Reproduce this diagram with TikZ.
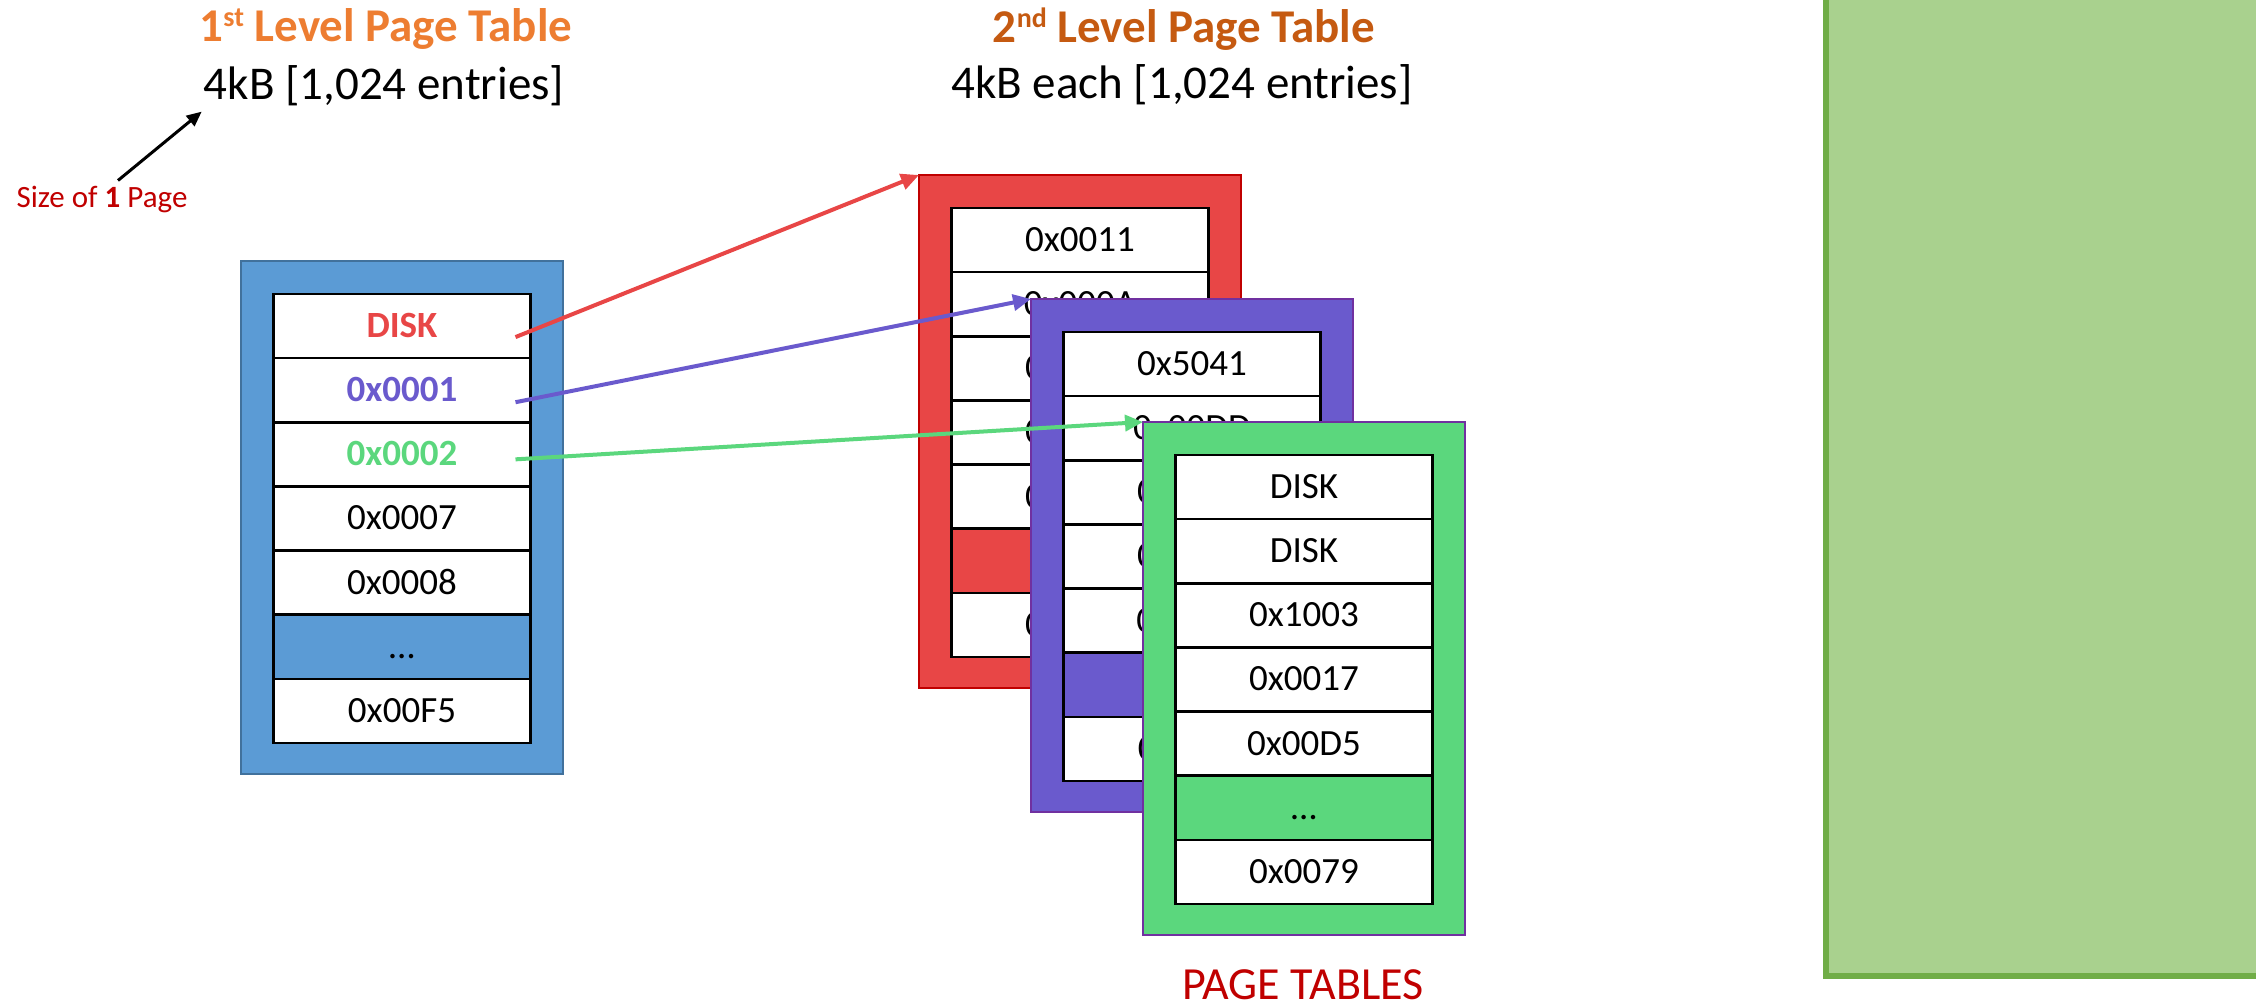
\documentclass[tikz,border=0pt]{standalone}
\usepackage{fontspec}
\setmainfont{Carlito}
\usetikzlibrary{arrows.meta,calc}

\definecolor{tblblue}{HTML}{5B9BD5}
\definecolor{tblblueedge}{HTML}{41719C}
\definecolor{tblred}{HTML}{E84646}
\definecolor{tblrededge}{HTML}{C00000}
\definecolor{tblpurple}{HTML}{6A5ACD}
\definecolor{tblpurpleedge}{HTML}{7030A0}
\definecolor{tblgreen}{HTML}{5BD77D}
\definecolor{memgreen}{HTML}{A9D18E}
\definecolor{memgreenedge}{HTML}{70AD47}
\definecolor{headA}{HTML}{ED7D31}
\definecolor{headB}{HTML}{C55A11}
\definecolor{darkred}{HTML}{C00000}

\tikzset{
  ptbox/.style={anchor=north west, minimum width=322pt, minimum height=513pt,
    inner sep=0pt, outer sep=0pt, line width=2pt},
  cell/.style={draw=black, line width=2.5pt, fill=white, minimum width=257pt,
    minimum height=64.14pt, inner sep=0pt, outer sep=0pt, text height=23pt,
    text depth=0pt, font=\fontsize{37}{44}\selectfont},
  hdr/.style={anchor=base, inner sep=0pt, font=\fontsize{47}{56}\selectfont},
  ptlink/.style={line width=4pt, -{Triangle[length=18pt,width=16pt]}},
}

\begin{document}
\begin{tikzpicture}[x=1pt, y=-1pt]
    \useasboundingbox (0,0) rectangle (2256,1006);

    % 标题
    \node[hdr, text=headA, font={\fontsize{47}{56}\selectfont\bfseries}] (t1) at (386,42)
        {1{\fontsize{28}{28}\selectfont\raisebox{15pt}{st}} Level Page Table};
    \node[hdr] (s1) at (384,100) {4kB [1,024 entries]};
    \node[hdr, text=headB, font={\fontsize{47}{56}\selectfont\bfseries}] (t2) at (1184,43)
        {2{\fontsize{28}{28}\selectfont\raisebox{15pt}{nd}} Level Page Table};
    \node[hdr] (s2) at (1182,99) {4kB each [1,024 entries]};

    % 页大小标注
    \node[anchor=base, inner sep=0pt, text=darkred, font=\fontsize{31}{37}\selectfont] (sz)
        at (102,207) {Size of \textbf{1} Page};
    \draw[line width=3pt, -{Triangle[length=15pt,width=13pt]}]
        ($(sz.north)+(16,-5)$) -- ($(s1.south west)+(-2,5)$);

    % 一级页表
    \node[ptbox, fill=tblblue, draw=tblblueedge] (lvl1) at (241,261) {};
    \foreach \txt/\fc [count=\i] in {{\color{tblred}\bfseries DISK}/white,
        {\color{tblpurple}\bfseries 0x0001}/white, {\color{tblgreen}\bfseries 0x0002}/white,
        0x0007/white, 0x0008/white, …/tblblue, 0x00F5/white}
        \node[cell, fill=\fc] (a\i) at (402, {294+64.14*\i-32.07}) {\txt};

    % 二级页表 (红)
    \node[ptbox, fill=tblred, draw=tblrededge] (lvl2a) at (919,175) {};
    \foreach \txt/\fc [count=\i] in {0x0011/white, 0x000A/white, 0x0032/white,
        0x0044/white, 0x0019/white, …/tblred, 0x0103/white}
        \node[cell, fill=\fc] (b\i) at (1080, {208+64.14*\i-32.07}) {\txt};

    % 二级页表 (紫)
    \node[ptbox, fill=tblpurple, draw=tblpurpleedge] (lvl2b) at (1031,299) {};
    \foreach \txt/\fc [count=\i] in {0x5041/white, 0x00DD/white, 0x0010/white,
        0x0023/white, 0x0B02/white, …/tblpurple, 0x0F00/white}
        \node[cell, fill=\fc] (c\i) at (1192, {332+64.14*\i-32.07}) {\txt};

    % 二级页表 (绿)
    \node[ptbox, fill=tblgreen, draw=tblpurpleedge] (lvl2c) at (1143,422) {};
    \foreach \txt/\fc [count=\i] in {DISK/white, DISK/white, 0x1003/white,
        0x0017/white, 0x00D5/white, …/tblgreen, 0x0079/white}
        \node[cell, fill=\fc] (d\i) at (1304, {455+64.14*\i-32.07}) {\txt};

    \node[hdr, font=\fontsize{46}{55}\selectfont, text=darkred] (pgt) at (1303,999) {PAGE TABLES};

    % 指向二级页表的箭头
    \coordinate (ra) at ($(a1.east)+(-15,11)$);
    \coordinate (pa) at ($(a2.east)+(-15,12)$);
    \coordinate (ga) at ($(a3.east)+(-15,5)$);
    \draw[ptlink, tblred] (ra) -- (lvl2a.north west);
    \draw[ptlink, tblpurple] (pa) -- (lvl2b.north west);
    \draw[ptlink, tblgreen] (ga) -- (lvl2c.north west);

    % 物理内存
    \draw[fill=memgreen, draw=memgreenedge, line width=6pt] (1826,-20) rectangle (2280,976);
\end{tikzpicture}
\end{document}
